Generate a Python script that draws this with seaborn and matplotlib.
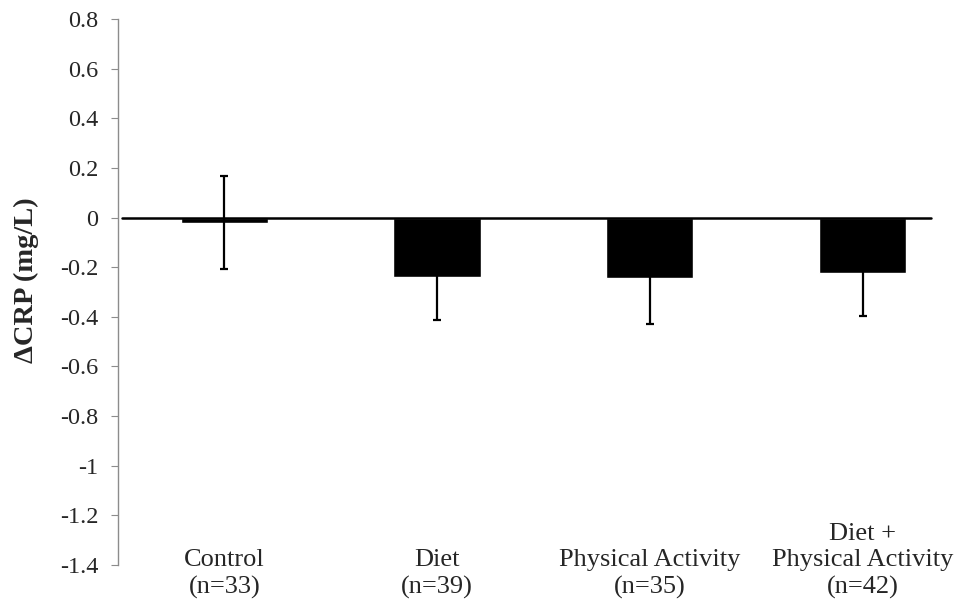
import numpy as np
import pandas as pd
import seaborn as sns
import matplotlib.pyplot as plt
from matplotlib.transforms import blended_transform_factory

groups = ["Control\n(n=33)", "Diet\n(n=39)", "Physical Activity\n(n=35)", "Diet +\nPhysical Activity\n(n=42)"]
change = [-0.02, -0.238, -0.245, -0.222]
sem = [0.187, 0.176, 0.185, 0.174]
yticks = [0.8, 0.6, 0.4, 0.2, 0, -0.2, -0.4, -0.6, -0.8, -1, -1.2, -1.4]

df = pd.DataFrame({"group": groups, "change": change, "sem": sem})

sns.set_style("white")
plt.rcParams["font.family"] = ["Liberation Serif", "DejaVu Serif"]

fig = plt.figure(figsize=(9.74, 6.0), dpi=100)
ax = fig.add_axes([0.1211, 0.0583, 0.8737, 0.91])

sns.barplot(data=df, x="group", y="change", color="black", width=0.41,
            saturation=1, ax=ax, zorder=2)
ax.errorbar(np.arange(len(groups)), df["change"], yerr=df["sem"], fmt="none",
            ecolor="black", elinewidth=1.6, capsize=3, capthick=1.6, zorder=3)

# zero line like excel's category axis
ax.axhline(0, xmin=0.005, xmax=0.955, color="black", lw=1.8, zorder=4)

ax.set_xlim(-0.5, 3.5)
ax.set_ylim(-1.4, 0.8)
ax.set_yticks(yticks)
ax.set_yticklabels([f"{t:g}" for t in yticks], fontsize=17.5)
ax.set_xticks([])
ax.set_xlabel("")
ax.set_ylabel("ΔCRP (mg/L)", fontsize=20.5, fontweight="bold")
ax.yaxis.set_label_coords(-0.093, 0.522)

for s in ["top", "right", "bottom"]:
    ax.spines[s].set_visible(False)
ax.spines["left"].set_color("#8c8c8c")
ax.spines["left"].set_linewidth(1.0)
ax.tick_params(axis="y", direction="out", length=5, color="#8c8c8c", left=True, pad=9)

trans = blended_transform_factory(ax.transData, fig.transFigure)
for i, g in enumerate(groups):
    ax.text(i, 0.002, g, transform=trans, ha="center", va="bottom",
            fontsize=19, linespacing=1.25)

fig.savefig("out.png", dpi=100)
